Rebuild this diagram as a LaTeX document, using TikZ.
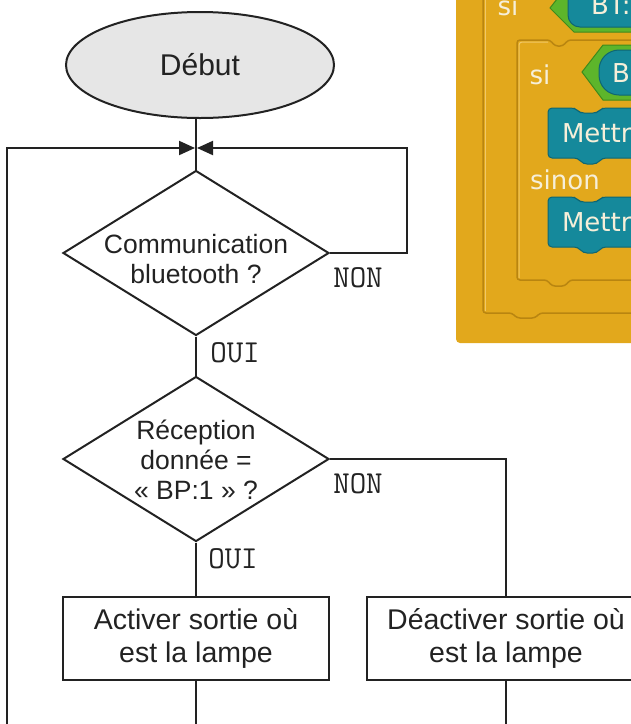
\documentclass[tikz,border=0pt]{standalone}
\usepackage{fontspec}
\setmainfont{Liberation Sans}
\newfontfamily\blocfont{DejaVu Sans}
\usepackage{tikz}
\usetikzlibrary{positioning, shapes.geometric, arrows.meta}

\definecolor{encre}{HTML}{222222}
\definecolor{fondGris}{HTML}{E6E6E6}
\definecolor{blocOrange}{HTML}{E2A81C}
\definecolor{blocOmbre}{HTML}{B98510}
\definecolor{blocClair}{HTML}{F0C867}
\definecolor{blocBleu}{HTML}{15899B}
\definecolor{bleuSombre}{HTML}{0E6673}
\definecolor{blocVert}{HTML}{5DB52B}
\definecolor{vertSombre}{HTML}{3F8A1C}
\definecolor{texteBloc}{HTML}{F6EFD9}

\begin{document}
\begin{tikzpicture}[
    x=1pt, y=-1pt, % one unit = one pixel, y going down
    line width=2pt, color=encre,
    startstop/.style={ellipse, draw, fill=fondGris, minimum width=268pt, minimum height=106pt,
        font=\fontsize{30}{36}\selectfont},
    decision/.style={diamond, draw, minimum width=266pt, minimum height=165pt, inner sep=0pt},
    dtext/.style={align=center, inner sep=0pt, font=\fontsize{26.5}{30}\selectfont},
    process/.style={rectangle, draw, minimum height=83pt, align=center,
        font=\fontsize{28.5}{33}\selectfont},
    reponse/.style={inner sep=0pt, font=\ttfamily\fontsize{32}{32}\selectfont},
    fleche/.style={-{Triangle[length=16pt, width=14pt]}, shorten >=1pt},
    bloctxt/.style={text=texteBloc, inner sep=0pt, font=\blocfont\fontsize{26}{30}\selectfont}
]
    \useasboundingbox (0,0) rectangle (631,724);
    \clip (0,0) rectangle (631,724);

    % 1. The block program, cut by the right edge
    \fill[blocOrange, rounded corners=4pt] (456,-20) rectangle (660,343);
    \draw[blocOmbre, line width=1.5pt, rounded corners=3pt]
        (483,-20) -- (483,313) -- (512,313) -- (517,318) -- (535,318) -- (540,313) -- (660,313);
    \draw[blocClair, line width=1pt, rounded corners=3pt]
        (485,-20) -- (485,311);
    \draw[blocOmbre, line width=1.5pt, rounded corners=3pt]
        (660,40) -- (568,40) -- (563,46) -- (555,46) -- (550,40) -- (517,40) -- (517,280)
        -- (547,280) -- (552,286) -- (565,286) -- (570,280) -- (660,280);
    \draw[blocClair, line width=1pt, rounded corners=3pt]
        (519,278) -- (519,42) -- (548,42);

    % conditions (green hexagons and teal readers)
    \filldraw[fill=blocVert, draw=vertSombre, line width=1pt]
        (550,8) -- (572,-20) -- (660,-20) -- (660,32) -- (574,32) -- cycle;
    \filldraw[fill=blocBleu, draw=bleuSombre, line width=1pt, rounded corners=12pt]
        (568,-30) rectangle (680,27);
    \filldraw[fill=blocVert, draw=vertSombre, line width=1pt]
        (582,72) -- (603,45) -- (660,45) -- (660,100) -- (603,100) -- cycle;
    \filldraw[fill=blocBleu, draw=bleuSombre, line width=1pt, rounded corners=20pt]
        (599,50) rectangle (680,95);

    % the two "Mettre" blocks
    \foreach \yh in {108,197} {
        \filldraw[fill=blocBleu, draw=bleuSombre, line width=1pt, rounded corners=4pt]
            (548,\yh) -- (575,\yh) -- (580,\yh+5) -- (597,\yh+5) -- (602,\yh) -- (660,\yh)
            -- (660,\yh+50) -- (602,\yh+50) -- (597,\yh+56) -- (583,\yh+56) -- (578,\yh+50)
            -- (548,\yh+50) -- cycle;
    }

    \node[bloctxt] (si1) at (508,6) {si};
    \node[bloctxt, anchor=west] (bt) at (590,5) {BT:};
    \node[bloctxt] (si2) at (540,75) {si};
    \node[bloctxt, anchor=west] (bp) at (611,73) {B};
    \node[bloctxt, anchor=west] (mettre1) at (561,133) {Mettr};
    \node[bloctxt] (sinon) at (565,180) {sinon};
    \node[bloctxt, anchor=west] (mettre2) at (561,222) {Mettr};

    % 2. The flowchart nodes
    \node[startstop] (debut) at (200,65) {Début};
    \coordinate (fusion) at (196,148);
    \node[decision] (D1) at (196,253) {};
    \node[dtext] (T1) at (196,259) {Communication\\bluetooth ?};
    \node[decision] (D2) at (196,459) {};
    \node[dtext] (T2) at (196,460) {Réception\\donnée =\\« BP:1 » ?};
    \node[process, minimum width=266pt] (A) at (196,638.5) {Activer sortie où\\est la lampe};
    \node[process, minimum width=278pt] (B) at (506,638.5) {Déactiver sortie où\\est la lampe};

    \node[reponse] (non1) at (358,278) {NON};
    \node[reponse] (oui1) at (235,353) {OUI};
    \node[reponse] (non2) at (358,484) {NON};
    \node[reponse] (oui2) at (233,559) {OUI};

    \coordinate (retour) at (7,724);
    \coordinate (finA) at (196,724);
    \coordinate (finB) at (506,724);

    % 3. The connectors
    \draw (debut.south -| fusion) -- (D1.north);
    \draw[fleche] (retour) |- (fusion);
    \draw[fleche] (D1.east) -- ++(77,0) |- (fusion);
    \draw (D1.south) -- (D2.north);
    \draw (D2.south) -- (A.north);
    \draw (D2.east) -| (B.north);
    \draw (A.south) -- (finA);
    \draw (B.south) -- (finB);

\end{tikzpicture}
\end{document}
